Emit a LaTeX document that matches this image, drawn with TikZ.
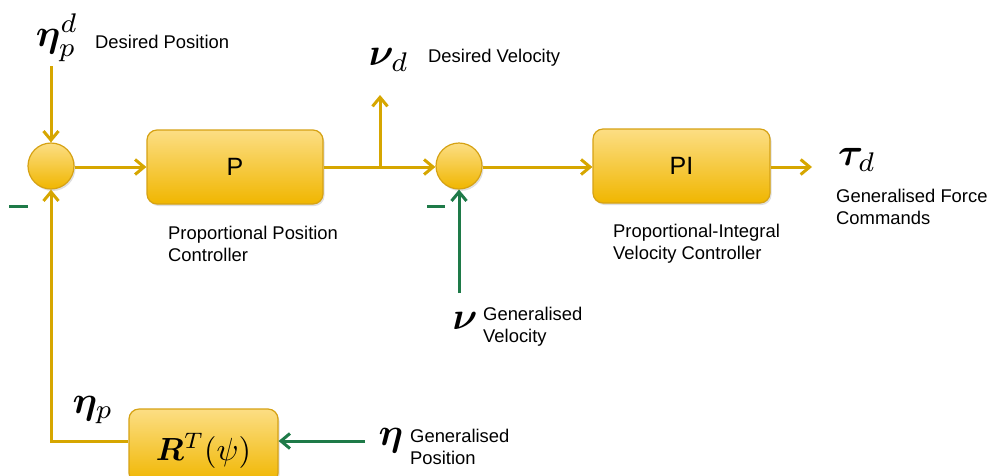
\documentclass[tikz,border=0pt]{standalone}
\usepackage{amsmath,bm}
\usepackage{fontspec}
\newfontfamily\labfont{Liberation Sans}
\usetikzlibrary{arrows.meta,shadows}
\definecolor{lineC}{RGB}{214,166,0}
\definecolor{boxB}{RGB}{214,162,20}
\definecolor{boxT}{RGB}{252,222,132}
\definecolor{boxBot}{RGB}{240,182,0}
\definecolor{greenC}{RGB}{30,122,72}
\begin{document}
\begin{tikzpicture}[x=1pt,y=-1pt,
  wire/.style={draw=lineC, line width=3pt},
  gwire/.style={draw=greenC, line width=3pt},
  arr/.style={-{Straight Barb[length=9pt,width=15pt]}},
  blk/.style={rectangle, rounded corners=10pt, draw=boxB, line width=1.2pt,
    top color=boxT, bottom color=boxBot, minimum height=74pt, inner sep=0pt,
    font=\labfont\fontsize{25}{30}\selectfont,
    drop shadow={shadow xshift=1.5pt, shadow yshift=-2pt, opacity=0.25}},
  sumc/.style={circle, minimum size=46pt, inner sep=0pt, draw=boxB, line width=1.2pt,
    top color=boxT, bottom color=boxBot,
    drop shadow={shadow xshift=1.5pt, shadow yshift=-2pt, opacity=0.25}},
  lab/.style={font=\labfont\fontsize{18.4}{22}\selectfont, align=left, anchor=west, inner sep=0pt},
  mlab/.style={scale=3.85, inner sep=0pt}
]
\clip (0,0) rectangle (992,475);
\useasboundingbox (0,0) rectangle (992,475);

% blocks
\node[sumc] (s1) at (51,166) {};
\node[blk, minimum width=176pt] (P) at (235,167) {P};
\node[sumc] (s2) at (459,166) {};
\node[blk, minimum width=177pt] (PI) at (681.5,166) {PI};
\node[blk, minimum width=149pt] (R) at (203.5,446) {};
\node[scale=3.2, inner sep=0pt] (Rt) at (203.5,451) {$\boldsymbol{R}^T(\psi)$};

% coordinates
\coordinate (inTop) at (51,66);
\coordinate (br) at (380,167);
\coordinate (vdTop) at (380,95);
\coordinate (outEnd) at (812,167);
\coordinate (nuStart) at (459,293);
\coordinate (etaStart) at (365,441);
\coordinate (fbCorner) at (51,441);

% wires
\draw[wire,arr] (inTop) -- (s1.north);
\draw[wire,arr] (s1.east |- br) -- (P.west |- br);
\draw[wire,arr] (P.east |- br) -- (s2.west |- br);
\draw[wire,arr] (br) -- (vdTop);
\draw[wire,arr] (s2.east |- br) -- (PI.west |- br);
\draw[wire,arr] (PI.east |- br) -- (outEnd);
\draw[wire,arr] (R.west |- fbCorner) -- (fbCorner) -- (s1.south);
\draw[gwire,arr] (nuStart) -- (s2.south);
\draw[gwire,arr] (etaStart) -- (R.east |- etaStart);

% minus signs
\coordinate (m1a) at (9,206); \coordinate (m1b) at (28,206);
\coordinate (m2a) at (427,206); \coordinate (m2b) at (445,206);
\draw[gwire] (m1a) -- (m1b);
\draw[gwire] (m2a) -- (m2b);

% math labels
\node[mlab] (etapd) at (57,38) {$\boldsymbol{\eta}_p^d$};
\node[mlab] (nud) at (389,60) {$\boldsymbol{\nu}_d$};
\node[mlab] (taud) at (857,160) {$\boldsymbol{\tau}_d$};
\node[mlab] (nu) at (465,321) {$\boldsymbol{\nu}$};
\node[mlab] (etap) at (93,410) {$\boldsymbol{\eta}_p$};
\node[mlab] (eta) at (391,441) {$\boldsymbol{\eta}$};

% text labels
\node[lab] (t1) at (95,42) {Desired Position};
\node[lab] (t2) at (428,58) {Desired Velocity};
\node[lab] (t3) at (168,244) {Proportional Position\\Controller};
\node[lab] (t4) at (613,244) {Proportional-Integral\\Velocity Controller};
\node[lab] (t5) at (836,207) {Generalised Force\\Commands};
\node[lab] (t6) at (483,327) {Generalised\\Velocity};
\node[lab] (t7) at (410,447) {Generalised\\Position};
\end{tikzpicture}
\end{document}
